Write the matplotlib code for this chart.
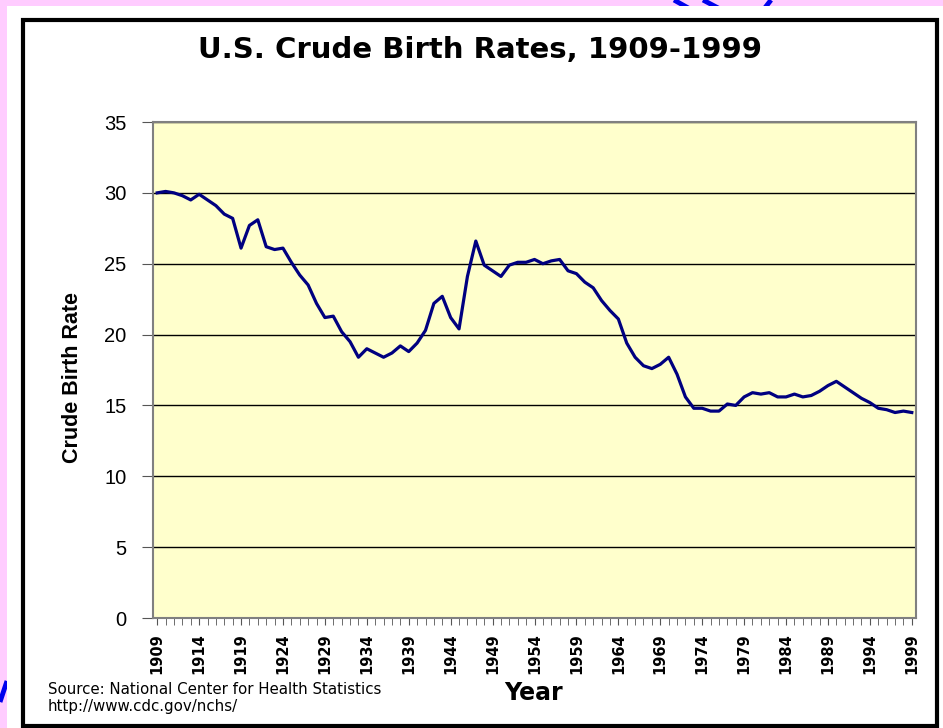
import matplotlib
matplotlib.use("Agg")
import matplotlib.pyplot as plt
from matplotlib.patches import Rectangle
from matplotlib.lines import Line2D
import numpy as np

years = list(range(1909, 2000))
birth_rate = [
    30.0, 30.1, 30.0, 29.8, 29.5, 29.9, 29.5, 29.1, 28.5, 28.2,   # 1909-1918
    26.1, 27.7, 28.1, 26.2, 26.0, 26.1, 25.1, 24.2, 23.5, 22.2,   # 1919-1928
    21.2, 21.3, 20.2, 19.5, 18.4, 19.0, 18.7, 18.4, 18.7, 19.2,   # 1929-1938
    18.8, 19.4, 20.3, 22.2, 22.7, 21.2, 20.4, 24.1, 26.6, 24.9,   # 1939-1948
    24.5, 24.1, 24.9, 25.1, 25.1, 25.3, 25.0, 25.2, 25.3, 24.5,   # 1949-1958
    24.3, 23.7, 23.3, 22.4, 21.7, 21.1, 19.4, 18.4, 17.8, 17.6,   # 1959-1968
    17.9, 18.4, 17.2, 15.6, 14.8, 14.8, 14.6, 14.6, 15.1, 15.0,   # 1969-1978
    15.6, 15.9, 15.8, 15.9, 15.6, 15.6, 15.8, 15.6, 15.7, 16.0,   # 1979-1988
    16.4, 16.7, 16.3, 15.9, 15.5, 15.2, 14.8, 14.7, 14.5, 14.6,   # 1989-1998
    14.5,                                                         # 1999
]
label_years = years[::5]
y_ticks = [0, 5, 10, 15, 20, 25, 30, 35]

W, H = 943, 728
fig = plt.figure(figsize=(W / 100, H / 100), dpi=100, facecolor="#FFCCFF")

def px(x, y):
    # pixel coords (top-left origin) -> figure fraction
    return x / W, 1 - y / H

# little blue decorations peeking out of the pink border
for (x0, y0), (x1, y1) in [((674, 0), (690, 9)), ((703, 0), (720, 9)),
                           ((771, 0), (764, 9)), ((0, 702), (7, 681))]:
    fig.add_artist(Line2D([x0 / W, x1 / W], [1 - y0 / H, 1 - y1 / H],
                          transform=fig.transFigure, color="#0000EE",
                          linewidth=3.5, solid_capstyle="butt", zorder=0))

# white slide panel and black frame
fig.add_artist(Rectangle((7 / W, 0), (W - 7) / W, (H - 6) / H,
                         transform=fig.transFigure, facecolor="white",
                         edgecolor="none", zorder=0.5))
fig.add_artist(Rectangle(px(23, 726), (937 - 23) / W, (726 - 20) / H,
                         transform=fig.transFigure, facecolor="none",
                         edgecolor="black", linewidth=3, zorder=1))

l, b = px(153, 618)
r, t = px(916, 122)
ax = fig.add_axes([l, b, r - l, t - b])
ax.set_zorder(2)
ax.set_facecolor("#FFFFCC")

ax.plot(years, birth_rate, color="#000080", linewidth=2.3, zorder=3)

ax.set_xlim(1908.5, 1999.5)
ax.set_ylim(0, 35)
ax.set_yticks(y_ticks)
ax.grid(axis="y", color="black", linewidth=1.0)
ax.set_axisbelow(True)

ax.set_xticks(label_years)
ax.set_xticklabels([str(y) for y in label_years], rotation=90,
                   fontsize=10.5, fontweight="bold", family="DejaVu Sans")
ax.set_xticks(years, minor=True)
ax.tick_params(axis="x", which="both", direction="out", length=5,
               color="#555555", pad=6)
ax.tick_params(axis="y", direction="out", length=8, color="#555555",
               labelsize=14.5, pad=11)
for lab in ax.get_yticklabels():
    lab.set_family("Liberation Sans")

for side in ["left", "bottom", "right", "top"]:
    ax.spines[side].set_color("#808080")
    ax.spines[side].set_linewidth(1.5)

fig.text(*px(480, 50), "U.S. Crude Birth Rates, 1909-1999", ha="center",
         va="center", fontsize=21, fontweight="bold", family="DejaVu Sans",
         zorder=3)
fig.text(*px(72, 377), "Crude Birth Rate", rotation=90, ha="center",
         va="center", fontsize=15.5, fontweight="bold",
         family=["Liberation Sans Narrow", "Liberation Sans"], zorder=3)
fig.text(*px(534, 693), "Year", ha="center", va="center", fontsize=17,
         fontweight="bold", family="DejaVu Sans", zorder=3)
fig.text(*px(48, 690), "Source: National Center for Health Statistics",
         ha="left", va="center", fontsize=10.8, family="DejaVu Sans",
         zorder=3)
fig.text(*px(48, 707), "http://www.cdc.gov/nchs/", ha="left", va="center",
         fontsize=10.8, family="DejaVu Sans", zorder=3)

fig.savefig("out.png", dpi=100, facecolor=fig.get_facecolor())
